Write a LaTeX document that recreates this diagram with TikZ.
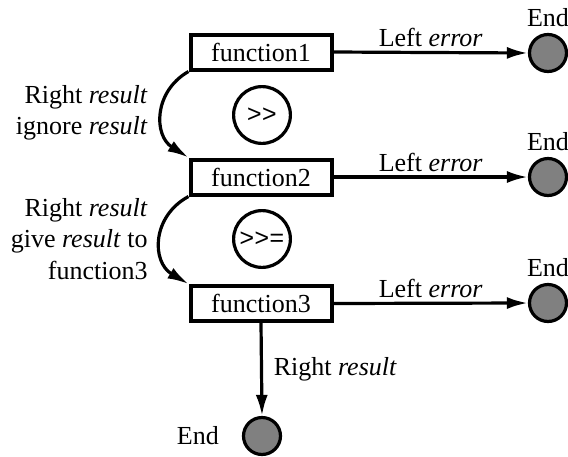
\documentclass[tikz,border=0pt]{standalone}
\usepackage{fontspec}
\setmainfont{Liberation Serif}
\setmonofont{Liberation Mono}
\usepackage{tikz}
\usetikzlibrary{arrows.meta}
\usetikzlibrary{positioning}
\tikzset{>={Latex[length=10.5pt,width=6pt]}}
\definecolor{endgray}{HTML}{808080}

\begin{document}
\begin{tikzpicture}[x=0.5pt, y=-0.5pt, font=\fontsize{13}{15.6}\selectfont,
    fun/.style={draw, line width=2pt, minimum width=70.5pt, minimum height=17.5pt, inner sep=0pt},
    stop/.style={circle, draw, line width=1.6pt, fill=endgray, minimum size=18.5pt, inner sep=0pt},
    bind/.style={circle, draw, line width=1.6pt, minimum size=28.4pt, inner sep=0pt, font=\ttfamily\fontsize{12.5}{14}\selectfont},
    flow/.style={->, line width=1.6pt}]
    \useasboundingbox (0,0) rectangle (568,456);
    % the three steps of the chain
    \node[fun] (f1) at (261,52) {function1};
    \node[fun] (f2) at (261,177) {function2};
    \node[fun] (f3) at (261,303.5) {function3};
    % end points
    \node[stop] (e1) at (548,53) {};
    \node[stop] (e2) at (548,177) {};
    \node[stop] (e3) at (548,303) {};
    \node[stop] (e4) at (262,436) {};
    \node[above=1.5pt of e1, inner sep=1.5pt] (t1) {End};
    \node[above=1.5pt of e2, inner sep=1.5pt] (t2) {End};
    \node[above=1.5pt of e3, inner sep=1.5pt] (t3) {End};
    \node[left=8pt of e4] (t4) {End};
    % bind operators
    \node[bind] (op1) at (262,115) {>{}>};
    \node[bind] (op2) at (262,239) {>{}>{}=};
    % error exits
    \draw[flow] (f1.east) -- node[above, inner sep=2pt] {Left \emph{error}} (e1.west);
    \draw[flow] (f2.east) -- node[above, inner sep=2pt] {Left \emph{error}} (e2.west);
    \draw[flow] (f3.east) -- node[above, inner sep=2pt] {Left \emph{error}} (e3.west);
    % success paths
    \draw[flow] (f1.south west) .. controls +(-35,20) and +(-35,-22) .. (f2.north west);
    \draw[flow] (f2.south west) .. controls +(-37,20) and +(-37,-22) .. (f3.north west);
    \draw[flow] (f3.south) -- node[right=2pt] {Right \emph{result}} (e4.north);
    \node[anchor=east, align=right, inner sep=1pt] (r1) at (150,113) {Right \emph{result}\\ignore \emph{result}};
    \node[anchor=east, align=right, inner sep=1pt] (r2) at (150,239) {Right \emph{result}\\give \emph{result} to\\function3};
\end{tikzpicture}
\end{document}
